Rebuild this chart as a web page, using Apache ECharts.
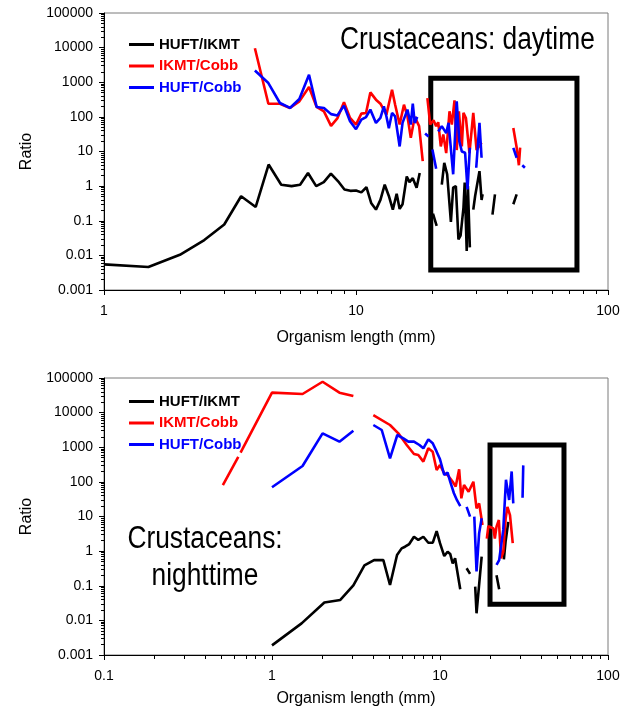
<!DOCTYPE html>
<html>
<head>
<meta charset="utf-8">
<script src="https://cdn.jsdelivr.net/npm/echarts@6/dist/echarts.min.js"></script>
<style>
  html, body { margin: 0; padding: 0; background: #ffffff; }
  #chart { width: 626px; height: 713px; }
</style>
</head>
<body>
<div id="chart"></div>
<script>
// ---------- Daytime ratios (organism length in mm, ratio) ----------
const dayLenHufIkmt = [1, 1.5, 2.0, 2.5, 3.0, 3.5, 4.0, 4.5, 5.05, 5.55, 6.0, 6.45, 6.95, 7.45, 7.95, 8.55, 9.0, 9.5, 10, 10.5, 11, 11.5, 12, 12.5, 13, 13.5, 14, 14.5, 14.9, 15.3, 15.9, 16.3, 16.8, 17.4, 17.9,
  19.0, 20.2, 20.9,
  21.4, 21.9, 22.4, 23.0, 23.8, 24.3, 24.9, 25.5, 26.0, 26.7, 27.0, 27.5, 27.8, 28.3,
  28.8, 29.2, 29.7, 30.1, 30.9, 31.5, 31.8,
  33.0, 34.8, 35.6,
  39.0, 42.1, 43.4];
const dayHufIkmt = [0.0055, 0.0046, 0.0104, 0.0277, 0.078, 0.51, 0.25, 4.2, 1.1, 1.0, 1.1, 2.4, 1.0, 1.3, 2.3, 1.3, 0.8, 0.73, 0.75, 0.66, 0.93, 0.32, 0.21, 0.4, 1.1, 0.52, 0.21, 0.6, 0.22, 0.3, 1.9, 1.3, 1.7, 0.9, 2.4,
  null, 0.16, 0.071,
  null, 1.1, 4.7, 2.2, 0.092, 0.9, 1.0, 0.029, 0.037, 0.24, 1.26, 0.0135, 1.0, 0.017,
  null, 0.21, 0.52, 0.58, 2.7, 0.4, 0.58,
  null, 0.15, 0.58,
  null, 0.3, 0.58];

const dayLenIkmtCobb = [3.97, 4.49, 4.99, 5.47, 5.96, 6.51, 6.98, 7.46, 7.96, 8.43, 8.96, 9.47, 10.0, 10.5, 10.96, 11.4, 12.0, 12.5, 13.2, 13.9, 14.3, 14.9, 15.5, 16.0, 16.5, 17.1, 17.8, 18.4,
  18.8, 19.2, 19.7, 20.3, 20.8, 21.2, 21.7, 22.2, 22.8, 23.5, 24.0, 24.6, 25.1, 25.6, 26.3, 26.7, 27.3, 28.2, 29.2, 30.1, 31.5,
  37.0, 42.1, 43.4, 44.3, 44.8];
const dayIkmtCobb = [9600, 240, 240, 181, 280, 728, 193, 144, 55, 90, 263, 93, 60, 124, 130, 509, 314, 240, 116, 608, 225, 60, 225, 104, 25, 100, 54, 5.3,
  null, 350, 60, 80, 54, 70, 14, 31, 9, 145, 60, 300, 11, 145, 14, 130, 93, 9, 130, 11, 18,
  null, 48, 13, 4, 13];

const dayLenHufCobb = [3.97, 4.49, 4.99, 5.47, 5.96, 6.51, 6.98, 7.46, 7.96, 8.43, 8.96, 9.47, 10.0, 10.5, 10.96, 11.4, 12.0, 12.5, 12.9, 13.2, 13.5, 13.9, 14.3, 14.9, 15.3, 16.0, 16.5, 16.8, 17.1, 17.5,
  18.2, 18.8, 19.4,
  19.8, 20.1, 20.8,
  21.0, 21.2, 21.9, 22.8, 23.3, 24.3, 25.1, 25.7, 26.3, 27.1, 27.7, 28.3,
  29.0, 30.0, 30.9, 31.5,
  37.0, 42.1, 43.4,
  44.5, 45.7, 46.8];
const dayHufCobb = [2180, 947, 252, 181, 328, 1640, 193, 181, 120, 109, 211, 75, 44, 83, 99, 162, 67, 93, 202, 104, 47, 130, 104, 14, 67, 162, 60, 240, 67, 100,
  null, 33, 27,
  null, 11.4, 3.2,
  null, 38, 54, 34, 67, 2.2, 280, 20, 10, 9.2, 0.8, 12.8,
  null, 3.4, 67, 6.6,
  null, 12.8, 6.6,
  null, 4.0, 3.4];

// ---------- Nighttime ratios ----------
const nightLenHufIkmt = [1.0, 1.5, 2.05, 2.55, 3.05, 3.55, 4.05, 4.6, 5.04, 5.55, 5.91, 6.19, 6.56, 7.0, 7.43, 7.96, 8.52, 9.06, 9.55, 10.0, 10.6, 11.1, 11.5, 11.9, 12.3, 13.2,
  13.8, 14.4, 15.1,
  15.6, 16.2, 16.5, 17.7,
  19.5, 21.7, 22.5,
  23.3, 24.0, 24.6, 25.5];
const nightHufIkmt = [0.0019, 0.0082, 0.033, 0.039, 0.103, 0.39, 0.55, 0.55, 0.105, 0.77, 1.2, 1.34, 1.6, 2.6, 2.1, 2.6, 1.75, 1.75, 3.8, 1.7, 0.72, 0.96, 0.83, 0.44, 0.62, 0.079,
  null, 0.32, 0.22,
  null, 0.094, 0.016, 0.69,
  null, 0.2, 0.079,
  null, 0.58, 2, 7];

const nightLenIkmtCobb = [0.51, 0.63,
  0.64, 0.65, 1.0, 1.52, 2.0, 2.52, 3.05,
  3.5, 4.01, 5.04, 5.65, 6.34, 7.0, 7.43, 7.96, 8.52, 9.05, 9.55, 10.0, 10.6, 11.1, 11.9, 12.4, 13.0, 13.4, 13.9, 14.8, 15.8, 16.5, 17.1, 17.9,
  18.5, 19.0, 19.4, 20.8, 21.2, 21.7, 22.4, 23.1, 23.8, 24.6, 25.2, 26.1, 27.1];
const nightIkmtCobb = [81, 530,
  null, 700, 37700, 34500, 78000, 37700, 30200,
  null, 8530, 4390, 2520, 1160, 638, 597, 384, 931, 745, 220, 307, 177, 158, 101, 73, 230, 33.5, 81, 52, 101, 17.2, 24, 5.7,
  null, 2.3, 5.3, 4.5, 2.3, 5.1, 7.9, 0.62, 0.96, 8.9, 19, 11, 1.7];

const nightLenHufCobb = [1.0, 1.52, 2.0, 2.52, 3.05,
  3.5, 4.01, 4.5, 5.04, 5.57, 6.05, 6.48, 7.0, 7.54, 7.96, 8.52, 9.05, 9.55, 10.0, 10.6, 11.1, 11.5, 12.1, 12.6, 13.2,
  13.8, 14.4, 15.1,
  15.6, 16.0, 16.5, 17.1, 17.7,
  19.5, 21.7, 22.5, 23.8, 24.7, 25.8, 26.7, 27.3,
  29.0, 31.0, 31.3];
const nightHufCobb = [70, 287, 2520, 1450, 3010,
  null, 4390, 3150, 479, 2260, 1810, 1450, 1450, 1160, 931, 1690, 1300, 745, 448, 158, 185, 101, 47, 30, 20,
  null, 19, 9.9,
  null, 9.9, 0.26, 3.3, 8.9,
  null, 0.4, 0.55, 4.1, 115, 30, 200, 24,
  null, 35, 300];

// Highlighted length/ratio windows (opposite corners)
const dayBoxLen = [19.8, 75.3];
const dayBoxRatio = [1310, 0.0038];
const nightBoxLen = [19.85, 54.7];
const nightBoxRatio = [1160, 0.029];

// Axis ranges and labels
const ratioMin = 0.001, ratioMax = 100000;
const dayLenRange = [1, 100];
const nightLenRange = [0.1, 100];
const seriesNames = ['HUFT/IKMT', 'IKMT/Cobb', 'HUFT/Cobb'];
const seriesColors = ['#000000', '#ff0000', '#0000ff'];

const FONT = '"Liberation Sans", Arial, Helvetica, sans-serif';

function pairs(xs, ys) {
  return xs.map((x, i) => [x, ys[i]]);
}

// log10 positions of the 2..9 sub-decade ticks between two exponents
function minorLogTicks(e0, e1) {
  const out = [];
  for (let e = e0; e < e1; e++) {
    for (let k = 2; k <= 9; k++) out.push(e + Math.log10(k));
  }
  return out;
}

const labelFmt = v => String(v);

function mainX(gridIndex, range, nameGap) {
  return {
    type: 'log', gridIndex, min: range[0], max: range[1], logBase: 10,
    name: 'Organism length (mm)', nameLocation: 'middle', nameGap,
    nameTextStyle: { fontFamily: FONT, fontSize: 16, color: '#000' },
    axisLine: { show: true, onZero: false, lineStyle: { color: '#000', width: 1 } },
    axisTick: { show: true, inside: false, length: 5, lineStyle: { color: '#000', width: 1 } },
    axisLabel: { fontFamily: FONT, fontSize: 14, color: '#000', margin: 14, formatter: labelFmt },
    splitLine: { show: false }
  };
}
function minorX(gridIndex, range) {
  return {
    type: 'value', gridIndex, min: Math.log10(range[0]), max: Math.log10(range[1]),
    position: 'bottom', silent: true,
    axisLine: { show: false, onZero: false },
    axisTick: { show: true, inside: false, length: 4, lineStyle: { color: '#000', width: 1 },
      customValues: minorLogTicks(Math.log10(range[0]), Math.log10(range[1])) },
    axisLabel: { show: false },
    splitLine: { show: false }
  };
}
function mainY(gridIndex) {
  return {
    type: 'log', gridIndex, min: ratioMin, max: ratioMax, logBase: 10,
    name: 'Ratio', nameLocation: 'middle', nameGap: 69,
    nameTextStyle: { fontFamily: FONT, fontSize: 16, color: '#000' },
    axisLine: { show: true, onZero: false, lineStyle: { color: '#000', width: 1 } },
    axisTick: { show: true, inside: false, length: 5, lineStyle: { color: '#000', width: 1 } },
    axisLabel: { fontFamily: FONT, fontSize: 14, color: '#000', margin: 11, formatter: labelFmt },
    splitLine: { show: false }
  };
}
function minorY(gridIndex) {
  return {
    type: 'value', gridIndex, min: Math.log10(ratioMin), max: Math.log10(ratioMax),
    position: 'left', silent: true,
    axisLine: { show: false, onZero: false },
    axisTick: { show: true, inside: false, length: 3, lineStyle: { color: '#000', width: 1 },
      customValues: minorLogTicks(Math.log10(ratioMin), Math.log10(ratioMax)) },
    axisLabel: { show: false },
    splitLine: { show: false }
  };
}

function lineSeries(name, color, xAxisIndex, yAxisIndex, data, extra) {
  return Object.assign({
    name, type: 'line', xAxisIndex, yAxisIndex, data,
    showSymbol: false, symbol: 'none', connectNulls: false, animation: false,
    lineStyle: { color, width: 2.6 }, itemStyle: { color }
  }, extra || {});
}

function boxArea(lens, ratios) {
  return {
    markArea: {
      silent: true,
      itemStyle: { color: 'rgba(0,0,0,0)', borderColor: '#000', borderWidth: 5 },
      data: [[{ coord: [lens[0], ratios[0]] }, { coord: [lens[1], ratios[1]] }]]
    }
  };
}

function legendFor(top) {
  return {
    orient: 'vertical', left: 124, top, itemWidth: 25, itemHeight: 3, itemGap: 6.5,
    icon: 'rect', selectedMode: false,
    textStyle: { fontFamily: FONT, fontSize: 15, fontWeight: 'bold', lineHeight: 15 },
    data: seriesNames.map((n, i) => ({ name: n, textStyle: { color: seriesColors[i] } }))
  };
}

const chart = echarts.init(document.getElementById('chart'), null, { renderer: 'canvas' });

chart.setOption({
  backgroundColor: '#ffffff',
  animation: false,
  grid: [
    { left: 104, top: 13, width: 504, height: 277, show: true, borderColor: '#7a7a7a', borderWidth: 1, backgroundColor: 'transparent' },
    { left: 104, top: 378, width: 504, height: 277, show: true, borderColor: '#7a7a7a', borderWidth: 1, backgroundColor: 'transparent' }
  ],
  xAxis: [
    mainX(0, dayLenRange, 40),
    mainX(1, nightLenRange, 36),
    minorX(0, dayLenRange),
    minorX(1, nightLenRange)
  ],
  yAxis: [
    mainY(0),
    mainY(1),
    minorY(0),
    minorY(1)
  ],
  legend: [legendFor(32), legendFor(389)],
  graphic: [
    { type: 'text', x: 340, y: 40, scaleX: 0.85, silent: true,
      style: { text: 'Crustaceans: daytime', fontFamily: FONT, fontSize: 31, fill: '#000',
        textAlign: 'left', textVerticalAlign: 'middle', align: 'left', verticalAlign: 'middle' } },
    { type: 'text', x: 205, y: 539, scaleX: 0.85, silent: true,
      style: { text: 'Crustaceans:', fontFamily: FONT, fontSize: 31, fill: '#000',
        textAlign: 'center', textVerticalAlign: 'middle', align: 'center', verticalAlign: 'middle' } },
    { type: 'text', x: 205, y: 576, scaleX: 0.85, silent: true,
      style: { text: 'nighttime', fontFamily: FONT, fontSize: 31, fill: '#000',
        textAlign: 'center', textVerticalAlign: 'middle', align: 'center', verticalAlign: 'middle' } }
  ],
  series: [
    lineSeries(seriesNames[0], seriesColors[0], 0, 0, pairs(dayLenHufIkmt, dayHufIkmt), boxArea(dayBoxLen, dayBoxRatio)),
    lineSeries(seriesNames[1], seriesColors[1], 0, 0, pairs(dayLenIkmtCobb, dayIkmtCobb)),
    lineSeries(seriesNames[2], seriesColors[2], 0, 0, pairs(dayLenHufCobb, dayHufCobb)),
    lineSeries(seriesNames[0], seriesColors[0], 1, 1, pairs(nightLenHufIkmt, nightHufIkmt), boxArea(nightBoxLen, nightBoxRatio)),
    lineSeries(seriesNames[1], seriesColors[1], 1, 1, pairs(nightLenIkmtCobb, nightIkmtCobb)),
    lineSeries(seriesNames[2], seriesColors[2], 1, 1, pairs(nightLenHufCobb, nightHufCobb))
  ]
});
</script>
</body>
</html>
